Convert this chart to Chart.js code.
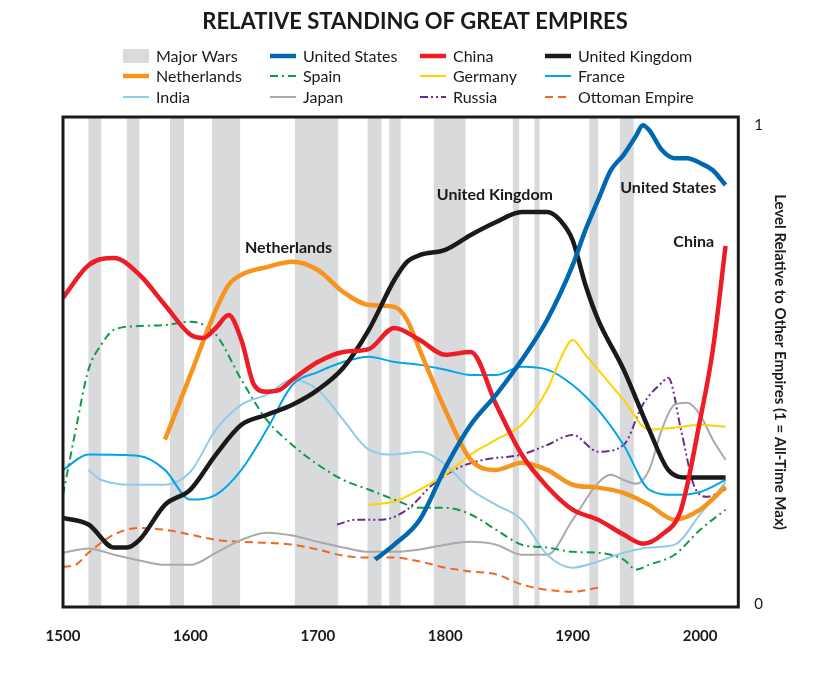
<!DOCTYPE html>
<html>
<head>
<meta charset="utf-8">
<script src="https://cdn.jsdelivr.net/npm/chart.js@4.4.0/dist/chart.umd.min.js"></script>
<style>
  body { margin: 0; background: #fff; }
  #wrap { width: 835px; height: 677px; }
</style>
</head>
<body>
<div id="wrap"><canvas id="myChart"></canvas></div>
<script>
const wars = [[1520, 1530], [1550, 1560], [1584, 1595], [1617, 1639], [1682, 1716], [1739, 1750],
    [1756, 1765], [1791, 1816], [1853, 1858], [1870, 1874], [1913, 1920], [1937, 1948]];

const xTicks = [1500, 1600, 1700, 1800, 1900, 2000];
const yTicks = [0, 1];

const chinaYears = [1500, 1520, 1540, 1560, 1580, 1600, 1610, 1620, 1630, 1640, 1650, 1660, 1670, 1680, 1700, 1720, 1740, 1760, 1780, 1800, 1820, 1840, 1860, 1880, 1900, 1920, 1940, 1955, 1970, 1985, 2000, 2010, 2020];
const chinaValues = [0.64, 0.708, 0.723, 0.688, 0.625, 0.563, 0.556, 0.577, 0.604, 0.552, 0.458, 0.444, 0.448, 0.469, 0.506, 0.527, 0.533, 0.577, 0.552, 0.521, 0.527, 0.417, 0.313, 0.246, 0.198, 0.177, 0.146, 0.127, 0.146, 0.198, 0.385, 0.531, 0.748];

const usYears = [1745, 1760, 1780, 1800, 1820, 1840, 1860, 1880, 1900, 1910, 1920, 1930, 1940, 1950, 1955, 1960, 1970, 1980, 1990, 2000, 2010, 2020];
const usValues = [0.094, 0.125, 0.177, 0.285, 0.375, 0.438, 0.51, 0.594, 0.708, 0.781, 0.844, 0.906, 0.938, 0.979, 1.0, 0.99, 0.948, 0.931, 0.931, 0.921, 0.906, 0.875];

const ukYears = [1500, 1520, 1540, 1550, 1560, 1580, 1600, 1620, 1640, 1660, 1680, 1700, 1720, 1740, 1760, 1770, 1780, 1800, 1820, 1840, 1860, 1880, 1890, 1900, 1910, 1920, 1940, 1960, 1975, 1990, 2000, 2020];
const ukValues = [0.181, 0.167, 0.119, 0.119, 0.135, 0.208, 0.24, 0.313, 0.375, 0.396, 0.417, 0.448, 0.494, 0.573, 0.677, 0.715, 0.729, 0.74, 0.771, 0.798, 0.819, 0.819, 0.802, 0.76, 0.667, 0.594, 0.49, 0.365, 0.281, 0.265, 0.265, 0.265];

const nlYears = [1580, 1600, 1620, 1630, 1640, 1660, 1680, 1700, 1720, 1740, 1760, 1770, 1780, 1800, 1820, 1840, 1860, 1880, 1900, 1920, 1940, 1960, 1980, 2000, 2020];
const nlValues = [0.344, 0.479, 0.615, 0.667, 0.688, 0.704, 0.715, 0.698, 0.652, 0.625, 0.621, 0.594, 0.531, 0.406, 0.302, 0.281, 0.296, 0.281, 0.25, 0.244, 0.233, 0.208, 0.177, 0.198, 0.246];

const spainYears = [1500, 1510, 1520, 1530, 1540, 1560, 1580, 1600, 1620, 1640, 1660, 1680, 1700, 1720, 1740, 1760, 1780, 1800, 1820, 1840, 1860, 1880, 1900, 1920, 1940, 1950, 1960, 1980, 2000, 2020];
const spainValues = [0.229, 0.365, 0.49, 0.542, 0.573, 0.581, 0.583, 0.59, 0.563, 0.469, 0.385, 0.333, 0.292, 0.26, 0.24, 0.219, 0.202, 0.202, 0.188, 0.156, 0.125, 0.119, 0.11, 0.108, 0.094, 0.073, 0.083, 0.104, 0.156, 0.198];

const germanyYears = [1740, 1760, 1780, 1800, 1820, 1840, 1860, 1880, 1890, 1900, 1910, 1920, 1940, 1960, 1980, 2000, 2020];
const germanyValues = [0.208, 0.215, 0.24, 0.271, 0.313, 0.344, 0.375, 0.448, 0.51, 0.552, 0.521, 0.49, 0.427, 0.365, 0.369, 0.375, 0.371];

const franceYears = [1500, 1520, 1560, 1580, 1600, 1620, 1640, 1660, 1680, 1700, 1720, 1740, 1760, 1780, 1800, 1820, 1840, 1860, 1880, 1900, 1920, 1940, 1960, 1980, 2000, 2020];
const franceValues = [0.281, 0.313, 0.31, 0.281, 0.219, 0.229, 0.281, 0.365, 0.458, 0.485, 0.506, 0.517, 0.506, 0.5, 0.49, 0.479, 0.479, 0.496, 0.49, 0.458, 0.406, 0.333, 0.24, 0.229, 0.235, 0.26];

const indiaYears = [1520, 1530, 1560, 1580, 1600, 1620, 1640, 1660, 1680, 1700, 1720, 1740, 1760, 1780, 1800, 1820, 1840, 1860, 1880, 1900, 1920, 1940, 1960, 1980, 2000, 2020];
const indiaValues = [0.281, 0.26, 0.25, 0.25, 0.277, 0.365, 0.417, 0.438, 0.469, 0.448, 0.385, 0.323, 0.313, 0.319, 0.292, 0.24, 0.208, 0.177, 0.104, 0.077, 0.09, 0.108, 0.119, 0.125, 0.188, 0.256];

const japanYears = [1500, 1520, 1540, 1560, 1580, 1600, 1620, 1640, 1660, 1680, 1700, 1720, 1740, 1760, 1780, 1800, 1820, 1840, 1860, 1880, 1900, 1920, 1930, 1940, 1950, 1960, 1970, 1980, 1990, 2000, 2010, 2020];
const japanValues = [0.108, 0.117, 0.104, 0.092, 0.083, 0.083, 0.108, 0.135, 0.15, 0.144, 0.131, 0.119, 0.11, 0.11, 0.115, 0.125, 0.131, 0.125, 0.104, 0.104, 0.177, 0.254, 0.271, 0.26, 0.252, 0.281, 0.365, 0.417, 0.421, 0.396, 0.344, 0.302];

const russiaYears = [1715, 1730, 1750, 1770, 1790, 1810, 1830, 1860, 1880, 1900, 1920, 1940, 1955, 1970, 1975, 1985, 1995, 2005, 2020];
const russiaValues = [0.167, 0.177, 0.177, 0.198, 0.25, 0.285, 0.302, 0.313, 0.333, 0.354, 0.319, 0.333, 0.417, 0.463, 0.473, 0.365, 0.25, 0.225, 0.24];

const ottomanYears = [1500, 1510, 1520, 1540, 1560, 1580, 1600, 1620, 1640, 1660, 1680, 1700, 1720, 1740, 1760, 1780, 1800, 1820, 1840, 1860, 1880, 1900, 1920];
const ottomanValues = [0.079, 0.083, 0.108, 0.146, 0.16, 0.156, 0.146, 0.135, 0.131, 0.129, 0.125, 0.115, 0.102, 0.098, 0.098, 0.09, 0.077, 0.069, 0.063, 0.042, 0.031, 0.027, 0.035];

const labels = [
    { text: 'Netherlands', x: 1677, y: 0.744 },
    { text: 'United Kingdom', x: 1839, y: 0.854 },
    { text: 'United States', x: 1975, y: 0.869 },
    { text: 'China', x: 1995, y: 0.756 },
];

function pts(years, values) {
    return years.map((y, i) => ({ x: y, y: values[i] }));
}

function series(label, years, values, color, width, dash) {
    return {
        label: label,
        data: pts(years, values),
        borderColor: color,
        backgroundColor: color,
        borderWidth: width,
        borderDash: dash || [],
        pointRadius: 0,
        cubicInterpolationMode: 'monotone',
        fill: false,
    };
}

const datasets = [
    series('United States', usYears, usValues, '#0067b1', 4.5),
    series('China', chinaYears, chinaValues, '#ee1c25', 4.5),
    series('United Kingdom', ukYears, ukValues, '#1a1a1a', 4.5),
    series('Netherlands', nlYears, nlValues, '#f7941d', 4.5),
    series('Spain', spainYears, spainValues, '#109a48', 2, [8, 4, 2, 4]),
    series('Germany', germanyYears, germanyValues, '#ffd200', 2),
    series('France', franceYears, franceValues, '#00a6e8', 2),
    series('India', indiaYears, indiaValues, '#92cbe8', 2),
    series('Japan', japanYears, japanValues, '#a7a9ac', 2),
    series('Russia', russiaYears, russiaValues, '#6a2c91', 2, [8, 3, 2, 3, 2, 3]),
    series('Ottoman Empire', ottomanYears, ottomanValues, '#f26522', 2, [8, 5]),
];

const FONT = 'Lato, "DejaVu Sans", sans-serif';

// legend order as in the picture: 4 columns x 3 rows
const legendOrder = [
    ['Major Wars', 'United States', 'China', 'United Kingdom'],
    ['Netherlands', 'Spain', 'Germany', 'France'],
    ['India', 'Japan', 'Russia', 'Ottoman Empire'],
];
const legendCols = [123, 270, 420, 545];
const legendRows = [56, 76, 97];

const decor = {
    id: 'decor',
    beforeDatasetsDraw(chart) {
        const { ctx, chartArea: a, scales: { x } } = chart;
        ctx.save();
        ctx.fillStyle = '#d9dadc';
        wars.forEach(([s, e]) => {
            const x1 = x.getPixelForValue(s), x2 = x.getPixelForValue(e);
            ctx.fillRect(x1, a.top, x2 - x1, a.bottom - a.top);
        });
        ctx.restore();
    },
    afterDraw(chart) {
        const { ctx, chartArea: a, scales: { x, y } } = chart;
        ctx.save();
        ctx.strokeStyle = '#1a1a1a';
        ctx.lineWidth = 3;
        ctx.strokeRect(a.left, a.top, a.right - a.left, a.bottom - a.top);

        // title
        ctx.fillStyle = '#1a1a1a';
        ctx.textAlign = 'center';
        ctx.textBaseline = 'middle';
        ctx.font = 'bold 22px ' + FONT;
        ctx.fillText('RELATIVE STANDING OF GREAT EMPIRES', 415, 22);

        // in-plot labels
        ctx.font = 'bold 16px ' + FONT;
        labels.forEach(l => ctx.fillText(l.text, x.getPixelForValue(l.x), y.getPixelForValue(l.y)));

        // legend
        ctx.font = '16px ' + FONT;
        ctx.textAlign = 'left';
        legendOrder.forEach((row, r) => {
            row.forEach((name, c) => {
                const lx = legendCols[c], ly = legendRows[r];
                if (name === 'Major Wars') {
                    ctx.fillStyle = '#d9dadc';
                    ctx.fillRect(lx, ly - 7, 26, 14);
                } else {
                    const ds = datasets.find(d => d.label === name);
                    ctx.strokeStyle = ds.borderColor;
                    ctx.lineWidth = ds.borderWidth;
                    ctx.setLineDash(ds.borderDash);
                    ctx.beginPath();
                    ctx.moveTo(lx, ly);
                    ctx.lineTo(lx + 26, ly);
                    ctx.stroke();
                    ctx.setLineDash([]);
                }
                ctx.fillStyle = '#1a1a1a';
                ctx.fillText(name, lx + 33, ly + 1);
            });
        });
        ctx.restore();
    }
};

const config = {
    type: 'line',
    data: { datasets: datasets },
    options: {
        responsive: true,
        maintainAspectRatio: false,
        animation: false,
        layout: { padding: { left: 63, top: 117, right: 36, bottom: 20 } },
        plugins: { legend: { display: false }, tooltip: { enabled: false } },
        scales: {
            x: {
                type: 'linear',
                min: 1500,
                max: 2030,
                afterBuildTicks: axis => { axis.ticks = xTicks.map(v => ({ value: v })); },
                grid: { display: false, drawTicks: true },
                border: { display: false },
                ticks: {
                    color: '#1a1a1a',
                    font: { family: FONT, size: 15, weight: 'bold' },
                    maxRotation: 0,
                    padding: 12,
                    callback: v => String(v),
                },
            },
            y: {
                position: 'right',
                min: -0.005,
                max: 1.017,
                afterBuildTicks: axis => { axis.ticks = yTicks.map(v => ({ value: v })); },
                grid: { display: false },
                border: { display: false },
                ticks: { color: '#1a1a1a', font: { family: FONT, size: 15 }, padding: 8 },
                title: {
                    display: true,
                    text: 'Level Relative to Other Empires (1 = All-Time Max)',
                    color: '#1a1a1a',
                    font: { family: FONT, size: 15, weight: 'bold' },
                    padding: { top: 10, bottom: 0 },
                },
            },
        },
    },
    plugins: [decor],
};

const myChart = new Chart(document.getElementById('myChart'), config);
</script>
</body>
</html>
